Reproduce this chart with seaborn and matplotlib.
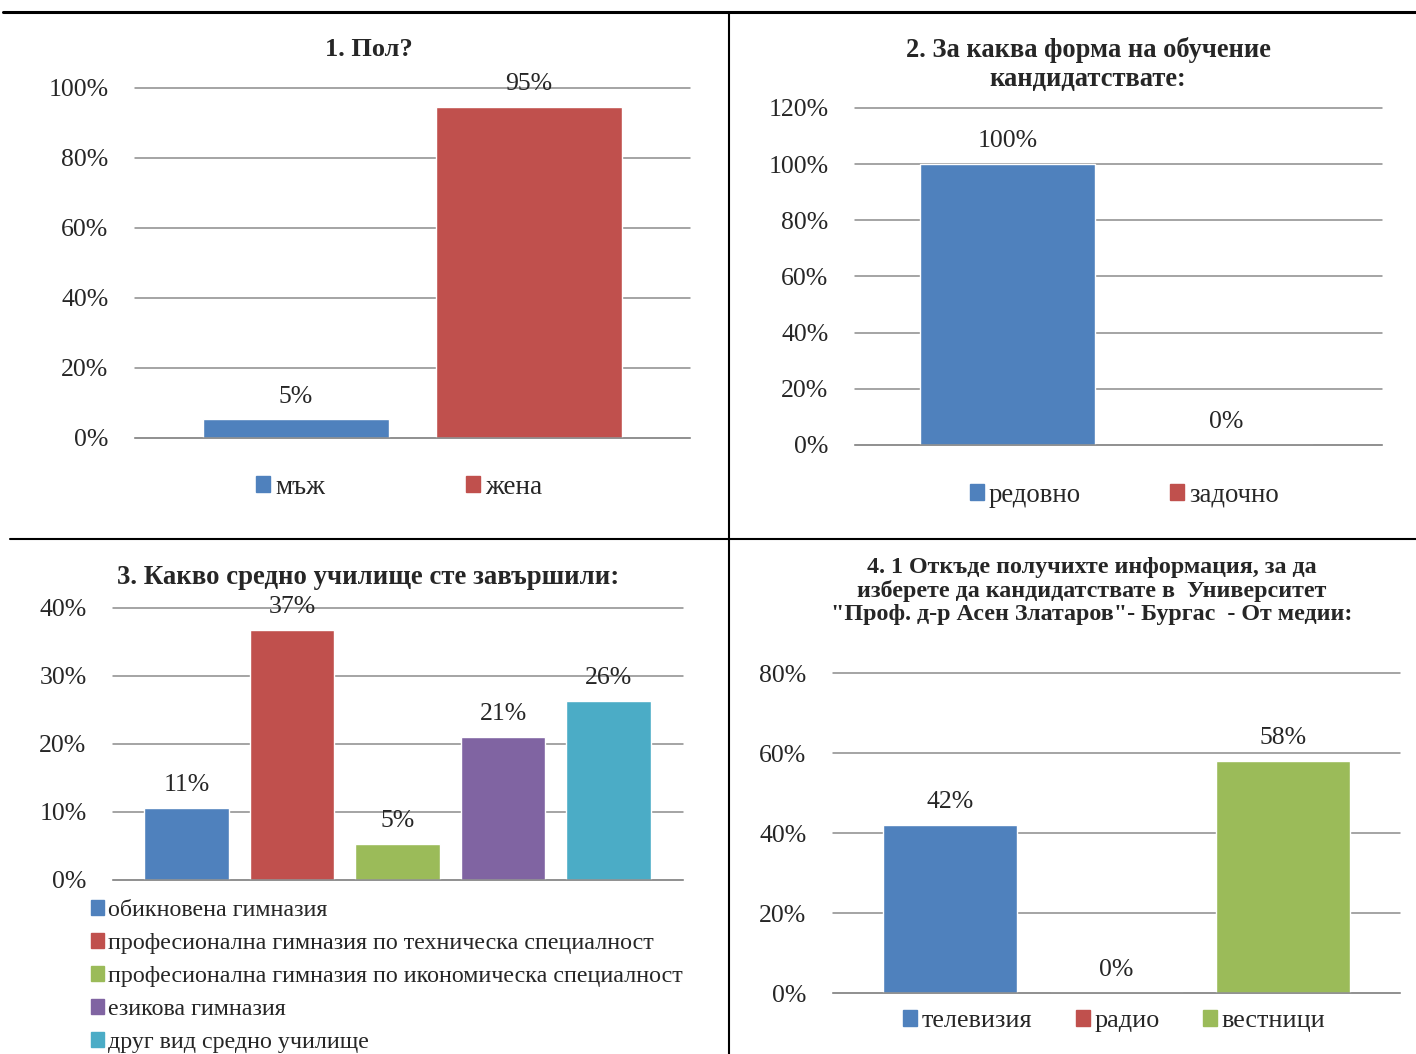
import numpy as np
import pandas as pd
import matplotlib.pyplot as plt
import matplotlib.patches as mpatches
from matplotlib.lines import Line2D
from matplotlib.ticker import PercentFormatter
import seaborn as sns

# 1. Пол?
gender_labels = ['мъж', 'жена']
gender_values = [0.053, 0.947]

# 2. За каква форма на обучение кандидатствате
form_labels = ['редовно', 'задочно']
form_values = [1.0, 0.0]

# 3. Какво средно училище сте завършили
school_labels = ['обикновена гимназия',
                 'професионална гимназия по техническа специалност',
                 'професионална гимназия по икономическа специалност',
                 'езикова гимназия',
                 'друг вид средно училище']
school_values = [0.106, 0.368, 0.053, 0.211, 0.263]

# 4.1 От медии
media_labels = ['телевизия', 'радио', 'вестници']
media_values = [0.42, 0.0, 0.58]

colors = ['#4F81BD', '#C0504D', '#9BBB59', '#8064A2', '#4BACC6']

W, H = 1416, 1054
FS = 18.5
GRID = '#8c8c8c'

sns.set_style('white')
plt.rcParams['font.family'] = ['Liberation Serif', 'DejaVu Serif']

fig = plt.figure(figsize=(W / 100, H / 100), dpi=100)


def px_axes(x0, y0, x1, y1):
    return fig.add_axes([x0 / W, 1 - y1 / H, (x1 - x0) / W, (y1 - y0) / H])


def bar_chart(ax, labels, values, ymax, step, xlim):
    df = pd.DataFrame({'cat': labels, 'val': values})
    pal = colors[:len(labels)]
    sns.barplot(data=df, x='cat', y='val', hue='cat', palette=pal, width=0.8,
                saturation=1, legend=False, ax=ax)
    ax.set_ylim(0, ymax)
    ax.set_yticks(np.arange(0, ymax + step / 2, step))
    ax.yaxis.set_major_formatter(PercentFormatter(1.0, decimals=0))
    ax.set_xlim(xlim)
    ax.set_xticks([])
    ax.set_xlabel('')
    ax.set_ylabel('')
    ax.tick_params(axis='y', length=0, pad=19, labelsize=FS)
    ax.yaxis.grid(True, color=GRID, lw=1.1)
    for gl in ax.get_ygridlines():
        gl.set_clip_on(False)
    ax.set_axisbelow(True)
    for s in ['top', 'left', 'right']:
        ax.spines[s].set_visible(False)
    ax.spines['bottom'].set_color(GRID)
    ax.spines['bottom'].set_linewidth(1.1)
    for cont, v in zip(ax.containers, values):
        ax.bar_label(cont, labels=[f'{v * 100:.0f}%'], padding=8.5, fontsize=FS)
    ax.patch.set_alpha(0)


def legend(labels, x, y, ncol, fs, colspace_px=40, rowspace=0.5,
           box_px=14, pad_px=5):
    em = fs * 100 / 72
    handles = [mpatches.Patch(color=c) for c in colors[:len(labels)]]
    fig.legend(handles, labels, loc='center left' if ncol > 1 else 'upper left',
               bbox_to_anchor=(x / W, 1 - y / H), ncol=ncol, frameon=False,
               fontsize=fs, handlelength=box_px / em, handleheight=box_px / em,
               handletextpad=pad_px / em, columnspacing=colspace_px / em,
               borderpad=0, borderaxespad=0, labelspacing=rowspace)


# chart 1
ax1 = px_axes(135, 88, 690, 438)
bar_chart(ax1, gender_labels, gender_values, 1.0, 0.2, (-0.69, 1.69))
fig.text(369 / W, 1 - 50 / H, '1. Пол?', ha='center', va='center',
         fontsize=19, fontweight='bold')
legend(gender_labels, 256, 487, 2, 19.5, colspace_px=141)

# chart 2
ax2 = px_axes(855, 108, 1382, 445)
bar_chart(ax2, form_labels, form_values, 1.2, 0.2, (-0.70, 1.716))
fig.text(1088 / W, 1 - 64.5 / H, '2. За каква форма на обучение\nкандидатствате:',
         ha='center', va='center', fontsize=19.1, fontweight='bold',
         linespacing=1.21)
legend(form_labels, 970, 495, 2, 19.3, colspace_px=89)

# chart 3
ax3 = px_axes(113, 608, 683, 880)
bar_chart(ax3, school_labels, school_values, 0.4, 0.1, (-0.697, 4.706))
fig.text(368 / W, 1 - 577 / H, '3. Какво средно училище сте завършили:',
         ha='center', va='center', fontsize=19.3, fontweight='bold')
legend(school_labels, 91, 900, 1, 17.3, rowspace=0.5, box_px=13, pad_px=4)

# chart 4
ax4 = px_axes(833, 673, 1400, 993)
bar_chart(ax4, media_labels, media_values, 0.8, 0.2, (-0.703, 2.703))
fig.text(1092 / W, 1 - 591 / H,
         '4. 1 Откъде получихте информация, за да\n'
         'изберете да кандидатствате в  Университет\n'
         '"Проф. д-р Асен Златаров"- Бургас  - От медии:',
         ha='center', va='center', fontsize=17.3, fontweight='bold',
         linespacing=1.125)
legend(media_labels, 903, 1021, 3, 18.8, colspace_px=43)

# table borders
fig.add_artist(Line2D([3 / W, 1], [1 - 12 / H, 1 - 12 / H], color='black', lw=2.2))
fig.add_artist(Line2D([10 / W, 1], [1 - 539 / H, 1 - 539 / H], color='black', lw=1.5))
fig.add_artist(Line2D([729 / W, 729 / W], [0, 1 - 12 / H], color='black', lw=1.5))

fig.savefig('out.png', dpi=100)
